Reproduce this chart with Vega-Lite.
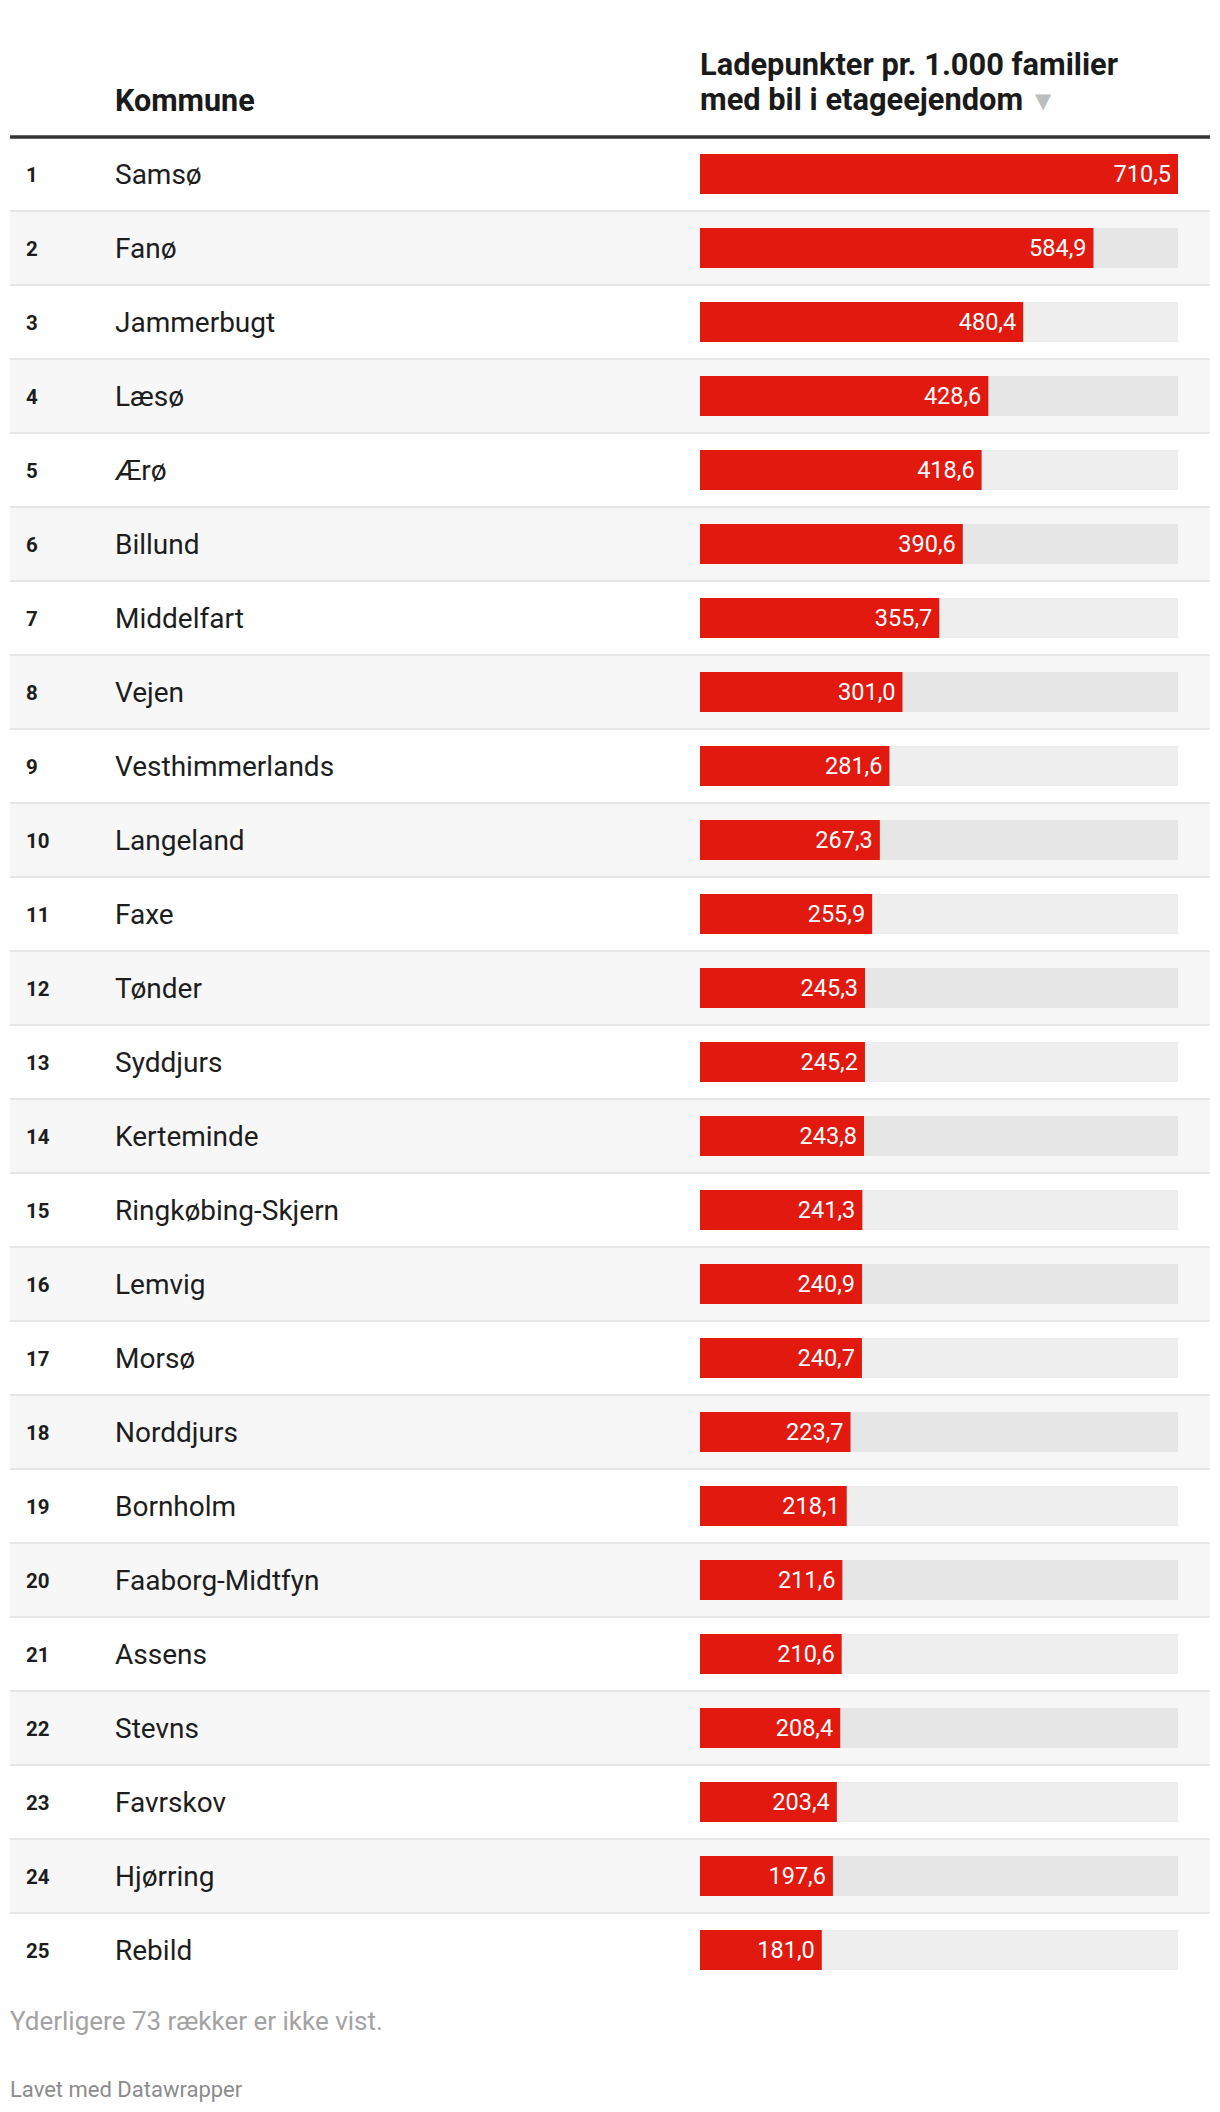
{
  "$schema": "https://vega.github.io/schema/vega-lite/v6.json",
  "width": 1200,
  "height": 1924,
  "autosize": {"type": "none"},
  "padding": {"left": 10, "top": 63, "right": 10, "bottom": 125},
  "background": "#ffffff",
  "title": {
    "text": "Yderligere 73 rækker er ikke vist.",
    "subtitle": "Lavet med Datawrapper",
    "orient": "bottom",
    "anchor": "start",
    "frame": "group",
    "offset": 22,
    "font": "Roboto",
    "fontSize": 26,
    "fontWeight": "normal",
    "color": "#a3a3a3",
    "subtitleFont": "Roboto",
    "subtitleFontSize": 22,
    "subtitleColor": "#8c8c8c",
    "subtitlePadding": 45
  },
  "datasets": {
    "kommuner": [
      {"rank": 1, "Kommune": "Samsø", "value": 710.5},
      {"rank": 2, "Kommune": "Fanø", "value": 584.9},
      {"rank": 3, "Kommune": "Jammerbugt", "value": 480.4},
      {"rank": 4, "Kommune": "Læsø", "value": 428.6},
      {"rank": 5, "Kommune": "Ærø", "value": 418.6},
      {"rank": 6, "Kommune": "Billund", "value": 390.6},
      {"rank": 7, "Kommune": "Middelfart", "value": 355.7},
      {"rank": 8, "Kommune": "Vejen", "value": 301.0},
      {"rank": 9, "Kommune": "Vesthimmerlands", "value": 281.6},
      {"rank": 10, "Kommune": "Langeland", "value": 267.3},
      {"rank": 11, "Kommune": "Faxe", "value": 255.9},
      {"rank": 12, "Kommune": "Tønder", "value": 245.3},
      {"rank": 13, "Kommune": "Syddjurs", "value": 245.2},
      {"rank": 14, "Kommune": "Kerteminde", "value": 243.8},
      {"rank": 15, "Kommune": "Ringkøbing-Skjern", "value": 241.3},
      {"rank": 16, "Kommune": "Lemvig", "value": 240.9},
      {"rank": 17, "Kommune": "Morsø", "value": 240.7},
      {"rank": 18, "Kommune": "Norddjurs", "value": 223.7},
      {"rank": 19, "Kommune": "Bornholm", "value": 218.1},
      {"rank": 20, "Kommune": "Faaborg-Midtfyn", "value": 211.6},
      {"rank": 21, "Kommune": "Assens", "value": 210.6},
      {"rank": 22, "Kommune": "Stevns", "value": 208.4},
      {"rank": 23, "Kommune": "Favrskov", "value": 203.4},
      {"rank": 24, "Kommune": "Hjørring", "value": 197.6},
      {"rank": 25, "Kommune": "Rebild", "value": 181.0}
    ],
    "header": [
      {"rank": 0, "column": "Kommune", "label": "Kommune"},
      {"rank": 0, "column": "bar", "label": "Ladepunkter pr. 1.000 familier\nmed bil i etageejendom", "sort": "▼"}
    ]
  },
  "data": {"name": "kommuner"},
  "resolve": {"scale": {"x": "independent"}},
  "layer": [
    {
      "transform": [{"filter": "datum.rank % 2 == 0"}],
      "mark": {"type": "rect", "color": "#f7f7f7"},
      "encoding": {
        "y": {"field": "rank", "type": "ordinal", "axis": null, "scale": {"paddingInner": 0, "paddingOuter": 0}}
      }
    },
    {
      "transform": [{"filter": "datum.rank < 25"}],
      "mark": {"type": "rule", "color": "#e6e6e6", "strokeWidth": 2},
      "encoding": {
        "y": {"field": "rank", "type": "ordinal", "bandPosition": 1, "axis": null}
      }
    },
    {
      "data": {"name": "header"},
      "transform": [{"filter": "datum.column == 'Kommune'"}],
      "mark": {"type": "rule", "color": "#333333", "strokeWidth": 3.5},
      "encoding": {
        "y": {"field": "rank", "type": "ordinal", "bandPosition": 1, "axis": null}
      }
    },
    {
      "transform": [{"joinaggregate": [{"op": "max", "field": "value", "as": "maxValue"}]}],
      "mark": {"type": "bar", "color": "#000000", "opacity": 0.068, "height": {"band": 0.54}},
      "encoding": {
        "y": {"field": "rank", "type": "ordinal", "axis": null},
        "x": {"field": "maxValue", "type": "quantitative", "axis": null, "scale": {"domain": [0, 710.5], "range": [690, 1168], "nice": false, "zero": true}}
      }
    },
    {
      "mark": {"type": "bar", "color": "#e1190f", "height": {"band": 0.54}},
      "encoding": {
        "y": {"field": "rank", "type": "ordinal", "axis": null},
        "x": {"field": "value", "type": "quantitative", "axis": null, "scale": {"domain": [0, 710.5], "range": [690, 1168], "nice": false, "zero": true}}
      }
    },
    {
      "mark": {"type": "text", "align": "right", "baseline": "alphabetic", "dx": -7, "dy": 8, "font": "Roboto", "fontSize": 23.5, "color": "#ffffff"},
      "encoding": {
        "y": {"field": "rank", "type": "ordinal", "axis": null},
        "x": {"field": "value", "type": "quantitative", "axis": null, "scale": {"domain": [0, 710.5], "range": [690, 1168], "nice": false, "zero": true}},
        "text": {"field": "value", "type": "quantitative", "format": ".1f"}
      }
    },
    {
      "mark": {"type": "text", "align": "left", "baseline": "alphabetic", "dy": 8, "font": "Roboto", "fontSize": 20.5, "fontWeight": "bold", "color": "#1d1d1d"},
      "encoding": {
        "y": {"field": "rank", "type": "ordinal", "axis": null},
        "x": {"datum": "nr", "type": "nominal", "axis": null, "scale": {"type": "point", "domain": ["nr", "Kommune"], "range": [16, 105], "padding": 0}},
        "text": {"field": "rank", "type": "ordinal"}
      }
    },
    {
      "mark": {"type": "text", "align": "left", "baseline": "alphabetic", "dy": 10, "font": "Roboto", "fontSize": 28, "color": "#1d1d1d"},
      "encoding": {
        "y": {"field": "rank", "type": "ordinal", "axis": null},
        "x": {"datum": "Kommune", "type": "nominal", "axis": null, "scale": {"type": "point", "domain": ["nr", "Kommune"], "range": [16, 105], "padding": 0}},
        "text": {"field": "Kommune", "type": "nominal"}
      }
    },
    {
      "data": {"name": "header"},
      "transform": [{"filter": "datum.column == 'Kommune'"}],
      "mark": {"type": "text", "align": "left", "baseline": "alphabetic", "dy": 10.5, "font": "Roboto", "fontSize": 30.5, "fontWeight": "bold", "color": "#1a1a1a"},
      "encoding": {
        "y": {"field": "rank", "type": "ordinal", "axis": null},
        "x": {"datum": "Kommune", "type": "nominal", "axis": null, "scale": {"type": "point", "domain": ["nr", "Kommune"], "range": [16, 105], "padding": 0}},
        "text": {"field": "label", "type": "nominal"}
      }
    },
    {
      "data": {"name": "header"},
      "transform": [{"filter": "datum.column == 'bar'"}],
      "mark": {"type": "text", "align": "left", "baseline": "alphabetic", "dy": -25, "lineHeight": 35, "lineBreak": "\n", "font": "Roboto", "fontSize": 30.8, "fontWeight": "bold", "color": "#1a1a1a"},
      "encoding": {
        "y": {"field": "rank", "type": "ordinal", "axis": null},
        "x": {"datum": 0, "type": "quantitative", "axis": null, "scale": {"domain": [0, 710.5], "range": [690, 1168], "nice": false, "zero": true}},
        "text": {"field": "label", "type": "nominal"}
      }
    },
    {
      "data": {"name": "header"},
      "transform": [{"filter": "datum.column == 'bar'"}],
      "mark": {"type": "text", "align": "left", "baseline": "alphabetic", "dx": 335, "dy": 8, "font": "DejaVu Sans", "fontSize": 21, "color": "#bdbdbd"},
      "encoding": {
        "y": {"field": "rank", "type": "ordinal", "axis": null},
        "x": {"datum": 0, "type": "quantitative", "axis": null, "scale": {"domain": [0, 710.5], "range": [690, 1168], "nice": false, "zero": true}},
        "text": {"field": "sort", "type": "nominal"}
      }
    }
  ],
  "config": {
    "view": {"stroke": null},
    "locale": {"number": {"decimal": ",", "thousands": ".", "grouping": [3], "currency": ["", " kr."]}}
  }
}
